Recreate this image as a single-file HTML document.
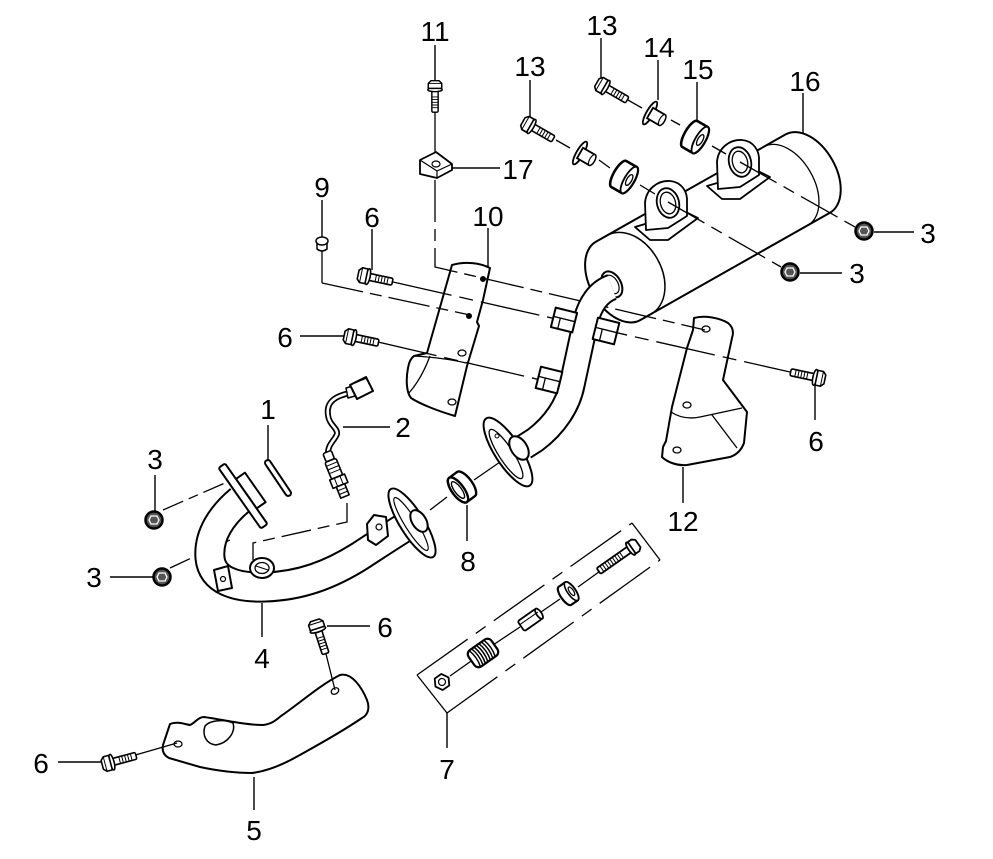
<!DOCTYPE html>
<html><head><meta charset="utf-8">
<style>
html,body{margin:0;padding:0;background:#fff;}
svg{display:block;}
text{font-family:"Liberation Sans",Arial,sans-serif;font-size:28px;fill:#000;text-anchor:middle;}
</style></head><body>
<svg width="993" height="859" viewBox="0 0 993 859" xmlns="http://www.w3.org/2000/svg">
<defs>
 <g id="bolt" fill="#fff" stroke="#000" stroke-width="1.6" stroke-linejoin="round">
  <rect x="4" y="-3.5" width="24" height="7" rx="1.5"/>
  <path d="M11,-3.5V3.5M14,-3.5V3.5M17,-3.5V3.5M20,-3.5V3.5M23,-3.5V3.5" stroke-width="1"/>
  <ellipse cx="3" cy="0" rx="2.2" ry="8"/>
  <path d="M-7,-4.5 L-4,-7.5 L1.5,-7.5 L1.5,7.5 L-4,7.5 L-7,4.5 Z"/>
  <path d="M-4,-7.5 V7.5" stroke-width="1"/>
 </g>
 <g id="nut">
  <circle r="8.5" fill="#555" stroke="#000" stroke-width="2.5"/>
  <path d="M-3,-4 L3,-4 L5,0 L3,4 L-3,4 L-5,0 Z" fill="none" stroke="#fff" stroke-width="1.3"/>
 </g>
</defs>

<!-- Shields 10, 12, 5 -->
<g fill="#fff" stroke="#000" stroke-width="2" stroke-linejoin="round">
 <path d="M452,265 C466,261 480,263 490,268 L483,300 L477,322 L479,326 L467,366 L455,416 C438,411 420,404 411,398 C406,392 406,378 408,368 C409,362 411,358 414,356 L427,353 Z"/>
 <path d="M414,356 C430,357 450,359 466,363" fill="none" stroke-width="1.3"/>
 <path d="M430,356 C424,372 416,385 409,393" fill="none" stroke-width="1.3"/>
 <circle cx="483" cy="279" r="2.5" fill="#000" stroke-width="1"/>
 <circle cx="469" cy="316" r="2.5" fill="#000" stroke-width="1"/>
 <ellipse cx="462" cy="353" rx="4" ry="3" stroke-width="1.3"/>
 <ellipse cx="452" cy="402" rx="4" ry="3" stroke-width="1.3"/>

 <path d="M694,318 C705,315 720,318 728,323 C733,327 734,332 732,338 L723,380 L747,412 L744,443 C741,451 736,455 730,457 L687,465 C677,466 667,462 662,457 L663,447 L666,441 L672,407 L687,348 L693,330 Z"/>
 <path d="M671,412 C680,418 690,419 700,417 L742,408 M712,415 L737,448" fill="none" stroke-width="1.3"/>
 <ellipse cx="706" cy="329" rx="4" ry="3" stroke-width="1.3"/>
 <ellipse cx="687" cy="405" rx="4" ry="3" stroke-width="1.3"/>
 <ellipse cx="677" cy="450" rx="4" ry="3" stroke-width="1.3"/>

 <path d="M340,675 C352,672 362,688 367,700 C370,708 368,715 362,718 C340,733 316,746 298,756 C284,764 268,771 252,773 C232,773 214,770 200,767 L169,758 C163,755 162,750 163,745 L170,724 C177,721 184,724 190,725 C195,723 198,717 204,717 C225,720 245,725 263,725 C272,724 276,720 281,716 C300,703 320,685 340,675 Z"/>
 <path d="M205,726 C210,720 225,719 233,723 C236,732 228,743 216,745 C206,744 202,735 205,726 Z" stroke-width="1.5"/>
 <ellipse cx="335" cy="691" rx="4" ry="3" stroke-width="1.3" transform="rotate(-30 335 691)"/>
 <ellipse cx="178" cy="744" rx="4" ry="3" stroke-width="1.3"/>
</g>

<!-- Muffler 16 -->
<g transform="translate(625,277) rotate(-29.5)" fill="#fff" stroke="#000" stroke-width="2">
 <path d="M-8,-45 L210,-45 A28,45 0 0 1 210,45 L-8,45 A28,45 0 0 1 -8,-45 Z"/>
 <path d="M185,-45 A28,45 0 0 1 185,45" fill="none" stroke-width="1.3"/>
 <path d="M5,-45 A32,45 0 0 1 5,45" fill="none" stroke-width="1.5"/>
 <ellipse cx="-15" cy="0" rx="9" ry="14"/>
 <ellipse cx="-15" cy="0" rx="6" ry="10" stroke-width="1.2"/>
</g>
<!-- muffler brackets -->
<g fill="#fff" stroke="#000" stroke-width="1.8" stroke-linejoin="round">
 <g>
  <path d="M635,227 L650,240 L668,240 L698,218 L686,212 Z"/>
  <path d="M646,230 L645,203 C646,189 658,180 670,181 C681,182 688,191 687,203 L687,216 L668,228 Z"/>
  <ellipse cx="668" cy="203" rx="11" ry="15" transform="rotate(-15 668 203)"/>
  <ellipse cx="668" cy="203" rx="7.5" ry="11" transform="rotate(-15 668 203)" stroke-width="1.3"/>
 </g>
 <g transform="translate(72,-41)">
  <path d="M635,227 L650,240 L668,240 L698,218 L686,212 Z"/>
  <path d="M646,230 L645,203 C646,189 658,180 670,181 C681,182 688,191 687,203 L687,216 L668,228 Z"/>
  <ellipse cx="668" cy="203" rx="11" ry="15" transform="rotate(-15 668 203)"/>
  <ellipse cx="668" cy="203" rx="7.5" ry="11" transform="rotate(-15 668 203)" stroke-width="1.3"/>
 </g>
</g>

<!-- leaders -->
<path fill="none" stroke="#000" stroke-width="1.4" d="M435,45V80 M601,38V78 M658,60V100 M697,82V122 M530,80V118 M803,93V133 M452,168H500 M322,200V237 M372,229V270 M488,228V268 M874,232H914 M800,273H842 M300,336H345 M268,425V460 M343,427H390 M155,475V512 M110,577H154 M467,505V541 M683,467V503 M815,385V420 M262,603V637 M327,626H370 M447,713V748 M58,762H101 M254,777V810"/>

<!-- axis / chain lines -->
<g fill="none" stroke="#000" stroke-width="1.3">
 <path d="M435,110 V152"/>
 <path d="M435,180 V267 L705,330" stroke-dasharray="42 7 12 7"/>
 <path d="M628,100 L642,108 M671,120 L680,125 M712,146 L726,154"/>
 <path d="M740,162 L855,227" stroke-dasharray="42 8 12 8"/>
 <path d="M556,140 L570,148 M599,160 L610,168 M640,185 L655,194"/>
 <path d="M668,202 L781,267" stroke-dasharray="42 8 12 8"/>
 <path d="M322,250 V283"/>
 <path d="M322,283 L470,315" stroke-dasharray="42 7 12 7"/>
 <path d="M393,282 L790,372" stroke-dasharray="60 8 14 8"/>
 <path d="M378,342 L545,381" stroke-dasharray="60 8 14 8"/>
 <path d="M325,650 L335,690"/>
 <path d="M132,756 L177,743"/>
 <path d="M347,503 V522 L253,543 V560" stroke-dasharray="30 7 12 7"/>
 <path d="M163,510 L225,483" stroke-dasharray="22 6 10 6"/>
 <path d="M170,568 L230,540" stroke-dasharray="22 6 10 6"/>
 <path d="M430,510 L447,497 M474,480 L500,462"/>
 <path d="M450,676 L474,659 M493,645 L520,627 M541,612 L560,599 M578,587 L603,569"/>
 <path d="M417,675 L447,713 M632,523 L660,560"/>
 <path d="M417,675 L632,523 M447,713 L660,560" stroke-dasharray="62 10 12 10"/>
</g>

<!-- muffler pipe -->
<g fill="#fff" stroke="#000" stroke-width="2" stroke-linejoin="round">
 <ellipse cx="508" cy="452" rx="40" ry="13" transform="rotate(57 508 452)"/>
 <ellipse cx="506" cy="454" rx="29" ry="7" transform="rotate(57 506 454)" stroke-width="1.3"/>
 <circle cx="497" cy="436" r="2" stroke-width="1"/>
 <path d="M612,287 C598,292 590,305 586,320 L572,385 C568,405 555,425 535,440 L524,447" fill="none" stroke="#000" stroke-width="27"/>
 <path d="M612,287 C598,292 590,305 586,320 L572,385 C568,405 555,425 535,440 L524,447" fill="none" stroke="#fff" stroke-width="23"/>
 <ellipse cx="519" cy="448" rx="13" ry="8" transform="rotate(57 519 448)"/>
 <g transform="translate(564,320) rotate(14)"><rect x="-11" y="-10" width="22" height="20"/><path d="M-11,-1 H11 M-4,-1 V10" fill="none" stroke-width="1.3"/></g>
 <g transform="translate(606,331) rotate(14)"><rect x="-11" y="-11" width="22" height="22"/><path d="M-11,-1 H11 M-4,-1 V11" fill="none" stroke-width="1.3"/></g>
 <g transform="translate(549,380) rotate(14)"><rect x="-11" y="-11" width="22" height="22"/><path d="M-11,-1 H11 M-4,-1 V11" fill="none" stroke-width="1.3"/></g>
</g>

<!-- front pipe 4 -->
<g fill="#fff" stroke="#000" stroke-width="2" stroke-linejoin="round">
 <path d="M240,500 C222,515 208,535 210,558 C212,580 235,588 265,587 C300,586 330,575 360,556 C380,543 395,533 410,524" fill="none" stroke="#000" stroke-width="31"/>
 <path d="M240,500 C222,515 208,535 210,558 C212,580 235,588 265,587 C300,586 330,575 360,556 C380,543 395,533 410,524" fill="none" stroke="#fff" stroke-width="27"/>
 <ellipse cx="412" cy="523" rx="40" ry="12" transform="rotate(58 412 523)"/>
 <ellipse cx="411" cy="524" rx="31" ry="6" transform="rotate(58 411 524)" stroke-width="1.2"/>
 <ellipse cx="419" cy="521" rx="12" ry="7" transform="rotate(58 419 521)"/>
 <g transform="translate(243,496) rotate(55)">
  <rect x="-18" y="-15" width="36" height="11"/>
  <rect x="-37" y="-4" width="74" height="8" rx="2"/>
 </g>
 <path d="M214,570 L228,566 L232,588 L218,591 Z"/>
 <circle cx="223" cy="579" r="2.5" stroke-width="1.2"/>
 <path d="M367,524 L374,515 L386,517 L388,536 L376,545 L368,540 Z"/>
 <circle cx="379" cy="527" r="3" stroke-width="1.2"/>
 <ellipse cx="262" cy="568" rx="12" ry="10"/>
 <ellipse cx="262" cy="568" rx="7" ry="5.5" stroke-width="1.3"/>
 <path d="M256,566 L268,570" fill="none" stroke-width="1"/>
</g>

<!-- gasket 1 -->
<g transform="translate(278,478) rotate(56)" fill="#fff" stroke="#000" stroke-width="2">
 <rect x="-21" y="-2.8" width="42" height="5.6" rx="2.8"/>
</g>
<!-- gasket 8 -->
<g transform="translate(462,487) rotate(-36.5)" fill="#fff" stroke="#000" stroke-width="2.4">
 <path d="M-5,-15 L5,-15 A6,15 0 0 1 5,15 L-5,15 A6,15 0 0 1 -5,-15 Z"/>
 <ellipse cx="-5" cy="0" rx="6" ry="15"/>
 <ellipse cx="-5" cy="0" rx="3.5" ry="10" stroke-width="1.4"/>
</g>

<!-- O2 sensor 2 -->
<g fill="#fff" stroke="#000" stroke-linejoin="round">
 <path d="M350,393 C335,396 326,402 328,415 C329,425 338,428 337,434 C335,440 328,444 328,453" fill="none" stroke-width="6"/>
 <path d="M350,393 C335,396 326,402 328,415 C329,425 338,428 337,434 C335,440 328,444 328,453" fill="none" stroke="#fff" stroke-width="2.6"/>
 <path d="M346,388 L353,386 L355,396 L348,398 Z" stroke-width="1.5"/>
 <path d="M350,385 L366,377 L373,391 L357,399 Z" stroke-width="2"/>
 <path d="M355,383 L367,378" fill="none" stroke-width="1"/>
 <g transform="translate(327,452) rotate(68)" stroke-width="1.6">
  <rect x="0" y="-4.5" width="9" height="9" rx="2"/>
  <rect x="9" y="-6" width="18" height="12" rx="2"/>
  <path d="M13,-6V6 M17,-6V6 M21,-6V6" fill="none" stroke-width="1"/>
  <rect x="27" y="-8" width="9" height="16"/>
  <path d="M27,-3H36 M27,3H36" fill="none" stroke-width="1"/>
  <rect x="36" y="-4.5" width="12" height="9"/>
  <path d="M40,-4.5V4.5 M44,-4.5V4.5" fill="none" stroke-width="1"/>
 </g>
</g>

<!-- bolts -->
<use href="#bolt" transform="translate(365,276) rotate(12)"/>
<use href="#bolt" transform="translate(351,337) rotate(12)"/>
<use href="#bolt" transform="translate(818,378) rotate(192)"/>
<use href="#bolt" transform="translate(317,627) rotate(72)"/>
<use href="#bolt" transform="translate(109,763) rotate(-15)"/>
<use href="#bolt" transform="translate(435,87) rotate(90) scale(0.9)"/>
<use href="#bolt" transform="translate(603,86) rotate(30)"/>
<use href="#bolt" transform="translate(529,125) rotate(30)"/>

<!-- nuts 3 -->
<use href="#nut" transform="translate(864,231)"/>
<use href="#nut" transform="translate(790,272)"/>
<use href="#nut" transform="translate(154,520)"/>
<use href="#nut" transform="translate(162,577)"/>

<!-- washers 14 and bushings 15 -->
<g fill="#fff" stroke="#000" stroke-width="1.8">
 <g transform="translate(650,113) rotate(30)">
  <ellipse cx="0" cy="0" rx="3.5" ry="13"/>
  <path d="M0,-6 L14,-6 A2.5,6 0 0 1 14,6 L0,6 Z"/>
  <ellipse cx="14" cy="0" rx="2.5" ry="6" stroke-width="1.2"/>
 </g>
 <g transform="translate(580,153) rotate(30)">
  <ellipse cx="0" cy="0" rx="3.5" ry="13"/>
  <path d="M0,-6 L14,-6 A2.5,6 0 0 1 14,6 L0,6 Z"/>
  <ellipse cx="14" cy="0" rx="2.5" ry="6" stroke-width="1.2"/>
 </g>
 <g transform="translate(695,137) rotate(30)" stroke-width="2.6">
  <path d="M-6,-15 L6,-15 A5,15 0 0 1 6,15 L-6,15 A5,15 0 0 1 -6,-15 Z"/>
  <ellipse cx="6" cy="0" rx="5" ry="15" stroke-width="1.8"/>
  <ellipse cx="6" cy="0" rx="2.5" ry="6" stroke-width="1.3"/>
 </g>
 <g transform="translate(624,177) rotate(30)" stroke-width="2.6">
  <path d="M-6,-15 L6,-15 A5,15 0 0 1 6,15 L-6,15 A5,15 0 0 1 -6,-15 Z"/>
  <ellipse cx="6" cy="0" rx="5" ry="15" stroke-width="1.8"/>
  <ellipse cx="6" cy="0" rx="2.5" ry="6" stroke-width="1.3"/>
 </g>
</g>

<!-- clip 17 and plug 9 -->
<g fill="#fff" stroke="#000" stroke-width="1.8" stroke-linejoin="round">
 <path d="M420,160 L436,152 L452,164 L452,170 L437,178 L420,174 Z"/>
 <path d="M420,160 L437,171 L452,164 M437,171 V178" fill="none" stroke-width="1.2"/>
 <ellipse cx="436" cy="164" rx="4" ry="3" stroke-width="1.2"/>
 <path d="M317,242 L317,249 Q322,253 327,249 L327,242" stroke-width="1.5"/>
 <ellipse cx="322" cy="241" rx="6" ry="4" stroke-width="1.5"/>
</g>

<!-- kit 7 parts -->
<g fill="#fff" stroke="#000" stroke-width="1.8" stroke-linejoin="round">
 <g transform="translate(442,682) rotate(-35)">
  <polygon points="8,0 4,7 -4,7 -8,0 -4,-7 4,-7"/>
  <circle r="3.5" stroke-width="1.2"/>
 </g>
 <g transform="translate(483,653) rotate(-35)">
  <rect x="-14" y="-10" width="28" height="20" rx="5" stroke-width="2.2"/>
  <path d="M-10,-10 Q-7,0 -10,10 M-7,-10 Q-4,0 -7,10 M-4,-10 Q-1,0 -4,10 M-1,-10 Q2,0 -1,10 M2,-10 Q5,0 2,10 M5,-10 Q8,0 5,10 M8,-10 Q11,0 8,10" fill="none" stroke-width="1.5"/>
 </g>
 <g transform="translate(530,620) rotate(-35)">
  <rect x="-11" y="-6" width="22" height="12" rx="2"/>
  <ellipse cx="11" cy="0" rx="2.5" ry="6"/>
  <path d="M-11,-2 H11" fill="none" stroke-width="1"/>
 </g>
 <g transform="translate(569,593) rotate(-35)" stroke-width="2.2">
  <path d="M-5,-11 L3,-11 A4,11 0 0 1 3,11 L-5,11 A4,11 0 0 1 -5,-11 Z"/>
  <ellipse cx="3" cy="0" rx="4" ry="11" stroke-width="1.6"/>
  <ellipse cx="3" cy="0" rx="2" ry="5" stroke-width="1.2"/>
 </g>
 <g transform="translate(633,547) rotate(145)">
  <rect x="4" y="-3.5" width="38" height="7" rx="1.5"/>
  <path d="M14,-3.5V3.5M17,-3.5V3.5M20,-3.5V3.5M23,-3.5V3.5M26,-3.5V3.5M29,-3.5V3.5M32,-3.5V3.5M35,-3.5V3.5M38,-3.5V3.5" stroke-width="1"/>
  <ellipse cx="3" cy="0" rx="2.2" ry="7.5"/>
  <path d="M-6,-4.5 L-3,-7 L1.5,-7 L1.5,7 L-3,7 L-6,4.5 Z"/>
 </g>
</g>

<!-- labels -->
<g>
 <text x="435" y="41">11</text>
 <text x="602" y="35">13</text>
 <text x="659" y="57">14</text>
 <text x="698" y="79">15</text>
 <text x="530" y="76">13</text>
 <text x="805" y="91">16</text>
 <text x="518" y="179">17</text>
 <text x="322" y="197">9</text>
 <text x="372" y="227">6</text>
 <text x="488" y="226">10</text>
 <text x="928" y="243">3</text>
 <text x="857" y="283">3</text>
 <text x="285" y="347">6</text>
 <text x="268" y="419">1</text>
 <text x="403" y="437">2</text>
 <text x="155" y="469">3</text>
 <text x="94" y="587">3</text>
 <text x="468" y="571">8</text>
 <text x="683" y="531">12</text>
 <text x="816" y="451">6</text>
 <text x="385" y="637">6</text>
 <text x="262" y="668">4</text>
 <text x="447" y="779">7</text>
 <text x="41" y="773">6</text>
 <text x="254" y="840">5</text>
</g>
</svg>
</body></html>
